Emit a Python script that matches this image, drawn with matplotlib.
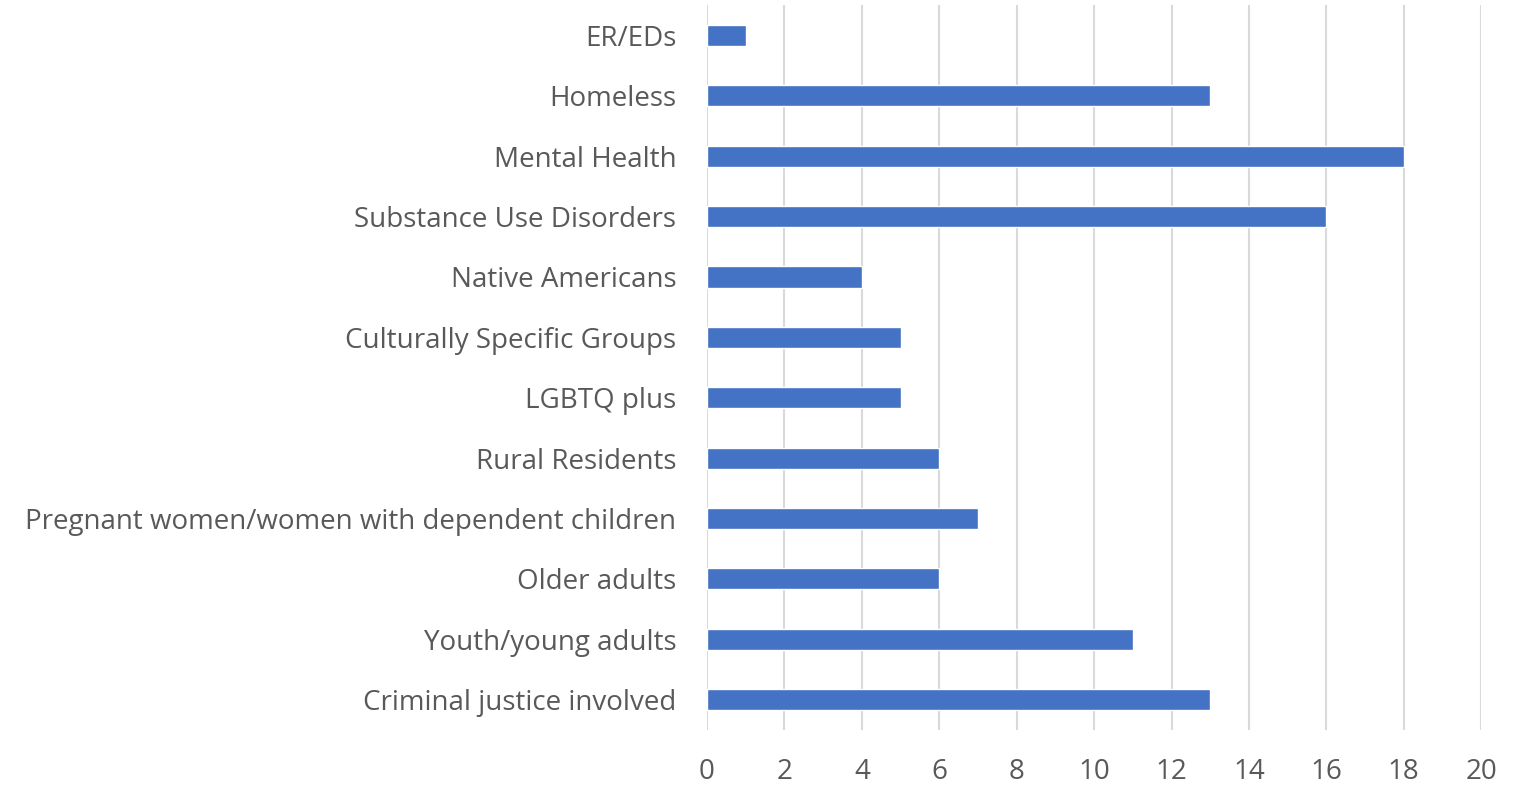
import matplotlib
matplotlib.use("Agg")
import matplotlib.pyplot as plt

categories = ["ER/EDs", "Homeless", "Mental Health", "Substance Use Disorders",
              "Native Americans", "Culturally Specific Groups", "LGBTQ plus",
              "Rural Residents", "Pregnant women/women with dependent children",
              "Older adults", "Youth/young adults", "Criminal justice involved"]
values = [1, 13, 18, 16, 4, 5, 5, 6, 7, 6, 11, 13]
xticks = [0, 2, 4, 6, 8, 10, 12, 14, 16, 18, 20]

plt.rcParams['font.family'] = ['Open Sans', 'DejaVu Sans']
text_color = '#595959'

fig = plt.figure(figsize=(15.27, 7.85), dpi=100)
ax = fig.add_axes([0.463, 0.0704, 0.970 - 0.463, 0.9932 - 0.0704])

y = list(range(len(categories)))
ax.barh(y, values, height=0.35, color='#4472C4', edgecolor='white',
        linewidth=1.0, zorder=3)
ax.set_yticks(y)
ax.set_yticklabels(categories)
ax.set_ylim(len(categories) - 0.5, -0.5)
ax.set_xlim(0, 20)
ax.set_xticks(xticks)
ax.set_xticklabels([str(v) for v in xticks])

ax.grid(axis='x', color='#D9D9D9', linewidth=1.5, zorder=0)
for s in ax.spines.values():
    s.set_visible(False)
ax.tick_params(axis='both', length=0, labelsize=20, colors=text_color)
ax.tick_params(axis='y', pad=22)
ax.tick_params(axis='x', pad=20)

fig.savefig("out.png", dpi=100)
